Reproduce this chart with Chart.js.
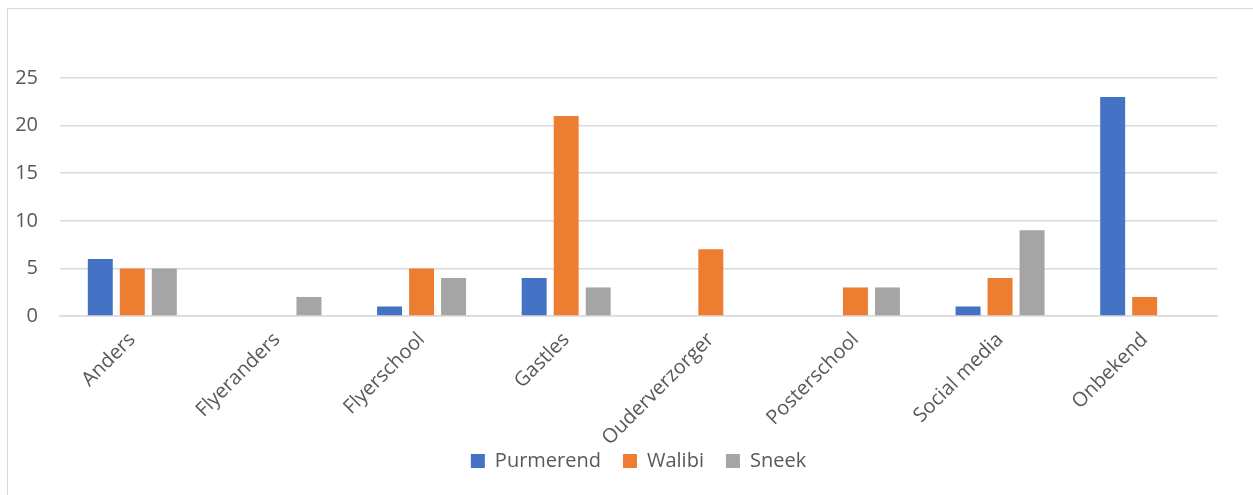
<!DOCTYPE html>
<html>
<head>
<meta charset="utf-8">
<script src="https://cdn.jsdelivr.net/npm/chart.js@4"></script>
<style>
  html, body { margin: 0; padding: 0; background: #fff; overflow: hidden; }
  #frame { position: absolute; left: 7px; top: 8px; width: 1300px; height: 600px; border: 1px solid #d9d9d9; }
  #wrap { position: absolute; left: 0; top: 0; width: 1253px; height: 495px; }
</style>
</head>
<body>
<div id="frame"></div>
<div id="wrap"><canvas id="chart"></canvas></div>
<script>
// categorieën en reeksen
const categories = ['Anders', 'Flyeranders', 'Flyerschool', 'Gastles', 'Ouderverzorger', 'Posterschool', 'Social media', 'Onbekend'];
const purmerend  = [6, 0, 1, 4, 0, 0, 1, 23];
const walibi     = [5, 0, 5, 21, 7, 3, 4, 2];
const sneek      = [5, 2, 4, 3, 0, 3, 9, 0];
const yTicks     = [0, 5, 10, 15, 20, 25];

const COLORS = { blue: '#4472c4', orange: '#ed7d31', gray: '#a5a5a5' };
const FONT = "'Open Sans', 'Noto Sans', sans-serif";

// labels mogen onder de as doorlopen (Ouderverzorger), legenda midden onder plot
const tweakLayout = {
  id: 'tweakLayout',
  afterLayout(chart) {
    chart.scales.x.bottom += 30;
    const shift = (chart.chartArea.left + chart.chartArea.right) / 2 - (chart.legend.left + chart.legend.right) / 2;
    chart.legend.left += shift;
    chart.legend.right += shift;
  },
};

new Chart(document.getElementById('chart'), {
  type: 'bar',
  data: {
    labels: categories,
    datasets: [
      { label: 'Purmerend', data: purmerend, backgroundColor: COLORS.blue },
      { label: 'Walibi',    data: walibi,    backgroundColor: COLORS.orange },
      { label: 'Sneek',     data: sneek,     backgroundColor: COLORS.gray },
    ],
  },
  plugins: [tweakLayout],
  options: {
    responsive: true,
    maintainAspectRatio: false,
    animation: false,
    categoryPercentage: 0.664,
    barPercentage: 0.78,
    layout: { padding: { top: 78, left: 15, right: 36, bottom: 14 } },
    plugins: {
      legend: {
        position: 'bottom',
        labels: { boxWidth: 14, boxHeight: 14, padding: 22, color: '#595959', font: { family: FONT, size: 20 } },
      },
      tooltip: { enabled: false },
    },
    scales: {
      y: {
        min: 0, max: 25,
        afterBuildTicks: axis => { axis.ticks = yTicks.map(v => ({ value: v })); },
        afterFit: axis => { axis.width = 45; },
        grid: { color: '#d9d9d9', lineWidth: 1.5, drawTicks: false },
        border: { display: false },
        ticks: { padding: 22, color: '#595959', font: { family: FONT, size: 20 } },
      },
      x: {
        afterFit: axis => { axis.height = 113; axis.paddingLeft = 0; axis.paddingRight = 0; },
        grid: { display: false },
        border: { color: '#d9d9d9', width: 1.5 },
        ticks: { minRotation: 45, maxRotation: 45, padding: 4, color: '#595959', font: { family: FONT, size: 20 } },
      },
    },
  },
});
</script>
</body>
</html>
